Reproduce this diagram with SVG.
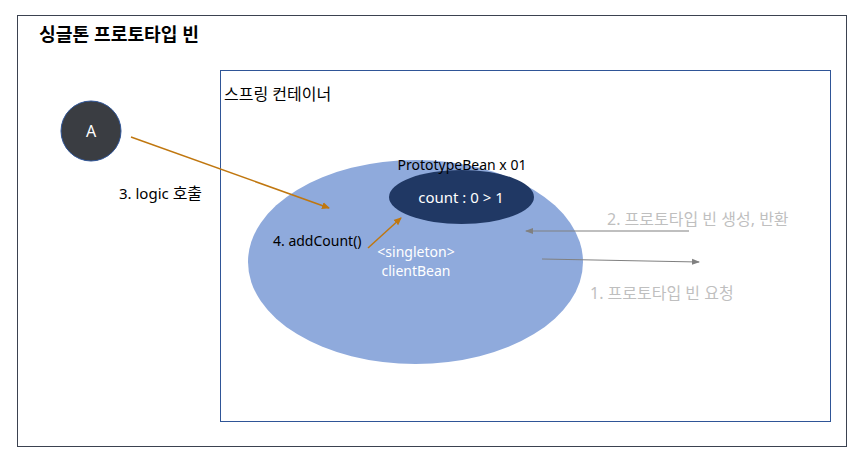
<svg xmlns="http://www.w3.org/2000/svg" width="850" height="466" viewBox="0 0 850 466">
<style>
text{font-family:"Noto Sans","Noto Sans CJK KR",sans-serif;font-size:14px;fill:#000}
.k{font-size:16px}
.w{fill:#fff}
.g{fill:#BFBFBF;font-size:16px}
.b{font-weight:bold;font-size:18.2px}
.o{stroke:#C0770F;stroke-width:1.5;fill:none}
.gr{stroke:#808080;stroke-width:1.2;fill:none}
</style>
<defs>
<marker id="ao" markerWidth="8" markerHeight="8" refX="7" refY="4" orient="auto" markerUnits="userSpaceOnUse"><path d="M0,0.5 L8,4 L0,7.5 z" fill="#C0770F"/></marker>
<marker id="ag" markerWidth="8" markerHeight="8" refX="7" refY="4" orient="auto" markerUnits="userSpaceOnUse"><path d="M0,1 L8,4 L0,7 z" fill="#808080"/></marker>
</defs>
<rect width="850" height="466" fill="#fff"/>
<g id="outer">
<rect x="17.5" y="15.5" width="829" height="431" fill="none" stroke="#3b4250" stroke-width="1"/>
<text x="39" y="41" class="b">싱글톤 프로토타입 빈</text>
</g>
<g id="container">
<rect x="220.5" y="70.5" width="610" height="351" fill="none" stroke="#2F5597" stroke-width="1"/>
<text x="224" y="100" class="k">스프링 컨테이너</text>
</g>
<g id="clientBean">
<ellipse cx="415.5" cy="262" rx="167.5" ry="102" fill="#8FAADC"/>
<text x="416" y="257" class="w" text-anchor="middle">&lt;singleton&gt;</text>
<text x="416" y="276" class="w" text-anchor="middle">clientBean</text>
</g>
<g id="prototypeBean">
<ellipse cx="461.5" cy="197" rx="72.5" ry="27" fill="#203864"/>
<text x="461" y="203" class="w" text-anchor="middle" style="font-size:15px">count : 0 &gt; 1</text>
<text x="462" y="170" text-anchor="middle">PrototypeBean x 01</text>
</g>
<g id="A">
<circle cx="91" cy="131" r="30" fill="#3A3D42" stroke="#2F5597" stroke-width="1"/>
<text x="91" y="137" class="w" text-anchor="middle" style="font-size:16px">A</text>
</g>
<g id="connectors">
<line x1="131" y1="137" x2="329" y2="208" class="o" marker-end="url(#ao)"/>
<line x1="368" y1="248" x2="401" y2="218" class="o" marker-end="url(#ao)"/>
<line x1="689" y1="231" x2="526" y2="231" class="gr" marker-end="url(#ag)"/>
<line x1="542" y1="259" x2="699" y2="262" class="gr" marker-end="url(#ag)"/>
</g>
<g id="labels">
<text x="119" y="199" style="font-size:15px">3. logic <tspan class="k">호출</tspan></text>
<text x="273" y="246">4. addCount()</text>
<text x="607" y="225" class="g">2. 프로토타입 빈 생성, 반환</text>
<text x="590" y="299" class="g">1. 프로토타입 빈 요청</text>
</g>
</svg>
